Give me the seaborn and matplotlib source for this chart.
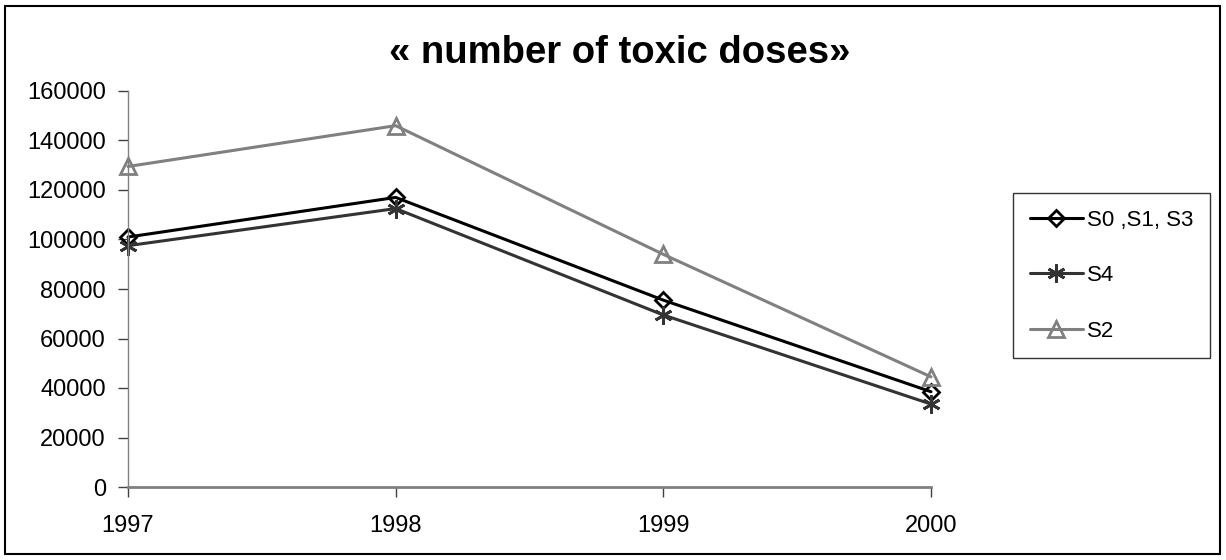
import numpy as np
import matplotlib
matplotlib.use("Agg")
import matplotlib.pyplot as plt
import matplotlib.patches as patches
import pandas as pd
import seaborn as sns

# data
years = [1997, 1998, 1999, 2000]
s0_s1_s3 = [101000, 117000, 75500, 38500]
s4 = [97500, 112500, 69500, 33500]
s2 = [129500, 146000, 94000, 44500]
series_names = ['S0 ,S1, S3', 'S4', 'S2']
y_ticks = [0, 20000, 40000, 60000, 80000, 100000, 120000, 140000, 160000]

df = pd.DataFrame({
    'year': years * 3,
    'doses': s0_s1_s3 + s4 + s2,
    'series': [series_names[0]] * 4 + [series_names[1]] * 4 + [series_names[2]] * 4,
})

sns.set_style("white")
plt.rcParams['font.family'] = ['Liberation Sans', 'DejaVu Sans']
plt.rcParams['text.color'] = 'black'

W, H = 1226, 560
fig = plt.figure(figsize=(W / 100, H / 100), dpi=100)
ax = fig.add_axes([128 / W, 1 - 487 / H, (931 - 128) / W, (487 - 91) / H])

palette = {series_names[0]: '#000000', series_names[1]: '#333333', series_names[2]: '#808080'}
markers = {series_names[0]: 'D', series_names[1]: (6, 2, 0), series_names[2]: '^'}
sizes = {series_names[0]: 8, series_names[1]: 13, series_names[2]: 11}

for name in series_names:
    sub = df[df['series'] == name]
    sns.lineplot(data=sub, x='year', y='doses', ax=ax, color=palette[name],
                 marker=markers[name], markersize=sizes[name], markerfacecolor='none',
                 markeredgecolor=palette[name], markeredgewidth=2, linewidth=2.2,
                 label=name, clip_on=False)

ax.set_xlim(years[0], years[-1])
ax.set_ylim(0, 160000)
ax.set_xticks(years)
ax.set_yticks(y_ticks)
ax.set_xlabel('')
ax.set_ylabel('')
ax.tick_params(axis='both', labelsize=17, labelcolor='black', color='#404040',
               length=7, width=1, direction='out', left=True, bottom=True)
ax.tick_params(axis='x', pad=13)
ax.tick_params(axis='y', pad=9)
sns.despine(ax=ax)
ax.spines['left'].set_color('#808080')
ax.spines['bottom'].set_color('#808080')
ax.spines['bottom'].set_linewidth(2)
ax.spines['left'].set_linewidth(1)
ax.grid(False)

fig.suptitle('« number of toxic doses»', fontsize=27.5, fontweight='bold', color='black',
             x=620 / W, y=1 - 53 / H, va='center')

# legend box: roughly x 1013-1211, y 193-356 in the reference
leg = ax.legend(loc='upper left', bbox_to_anchor=(1013 / W, 1 - 193 / H),
                bbox_transform=fig.transFigure, frameon=True, fancybox=False,
                fontsize=16, handlelength=2.4, labelspacing=1.55, borderpad=0.75,
                handletextpad=0.2, borderaxespad=0)
leg.get_frame().set_edgecolor('black')
leg.get_frame().set_linewidth(1)
for t in leg.get_texts():
    t.set_color('black')

fig.patches.append(patches.Rectangle((5 / W, 6 / H), 1 - 11 / W, 1 - 12 / H,
                                     transform=fig.transFigure, fill=False,
                                     edgecolor='black', linewidth=1.5))

fig.savefig('out.png', dpi=100)
